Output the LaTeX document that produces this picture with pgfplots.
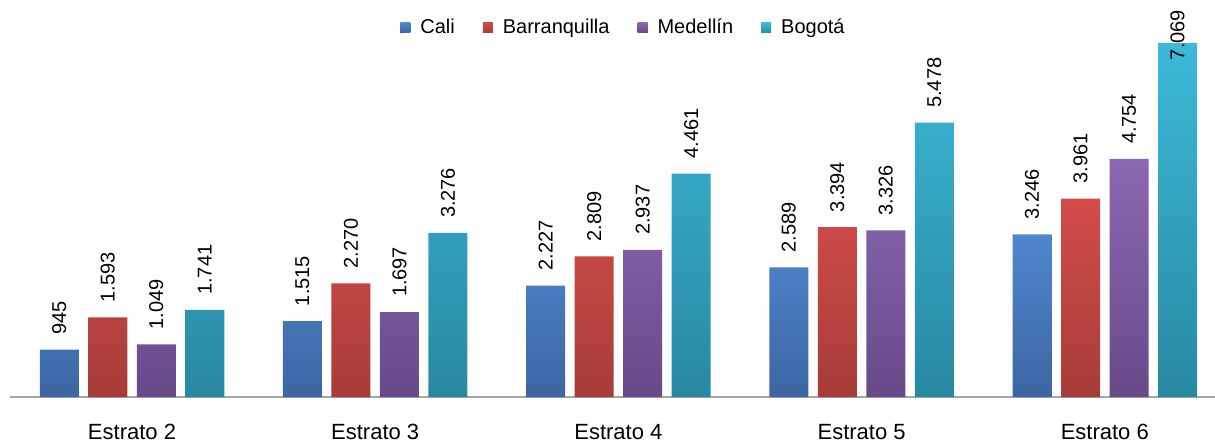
\documentclass[border=0pt]{standalone}
\usepackage{fontspec}
\setmainfont{Liberation Sans}
\usepackage{pgfplots}
\pgfplotsset{compat=1.18}
\definecolor{caliT}{HTML}{4F86CE}\definecolor{caliB}{HTML}{3C66A2}
\definecolor{barrT}{HTML}{D24C4A}\definecolor{barrB}{HTML}{A63C38}
\definecolor{medeT}{HTML}{8A68B2}\definecolor{medeB}{HTML}{684A8A}
\definecolor{bogoT}{HTML}{3CBAD9}\definecolor{bogoB}{HTML}{2888A2}
\begin{document}
\begin{tikzpicture}
\begin{axis}[name=ax,scale only axis,width=608pt,height=198.5pt,
  xmin=-0.5,xmax=4.5,ymin=0,ymax=7930,enlargelimits=false,
  ybar=4.75pt,bar width=19.5pt,
  axis y line=none,axis x line*=bottom,x axis line style={black!35,line width=1pt,-},
  xtick=data,xticklabels={Estrato 2,Estrato 3,Estrato 4,Estrato 5,Estrato 6},
  xtick style={draw=none},
  xticklabel style={font=\fontsize{11}{13}\selectfont,yshift=-6pt},
  /pgf/number format/.cd,1000 sep={.},fixed,assume math mode=true,/pgfplots/.cd,
  nodes near coords,
  every node near coord/.append style={rotate=90,anchor=west,font=\fontsize{10}{12}\selectfont,xshift=4pt},
  legend columns=-1,
  legend style={draw=none,fill=none,at={(0.505,0.93)},anchor=center,font=\fontsize{10}{12}\selectfont,
    /tikz/every even column/.append style={column sep=12pt}},
  legend image code/.code={\path (0pt,0pt) -- (8pt,0pt);\fill[#1] (0pt,-2.5pt) rectangle (5pt,2.5pt);}]
\addplot[draw=none,top color=caliT,bottom color=caliB] coordinates {(0,945) (1,1515) (2,2227) (3,2589) (4,3246)};
\addplot[draw=none,top color=barrT,bottom color=barrB] coordinates {(0,1593) (1,2270) (2,2809) (3,3394) (4,3961)};
\addplot[draw=none,top color=medeT,bottom color=medeB] coordinates {(0,1049) (1,1697) (2,2937) (3,3326) (4,4754)};
\addplot[draw=none,top color=bogoT,bottom color=bogoB,
  visualization depends on={\coordindex \as \idx},
  every node near coord/.append style={xshift={-16*(\idx==4)}}] coordinates {(0,1741) (1,3276) (2,4461) (3,5478) (4,7069)};
\legend{Cali,Barranquilla,Medellín,Bogotá}
\end{axis}
\pgfresetboundingbox
\path[use as bounding box] (ax.south west) ++(-5.2pt,-24pt) rectangle ++(607.5pt,222.5pt);
\end{tikzpicture}
\end{document}
